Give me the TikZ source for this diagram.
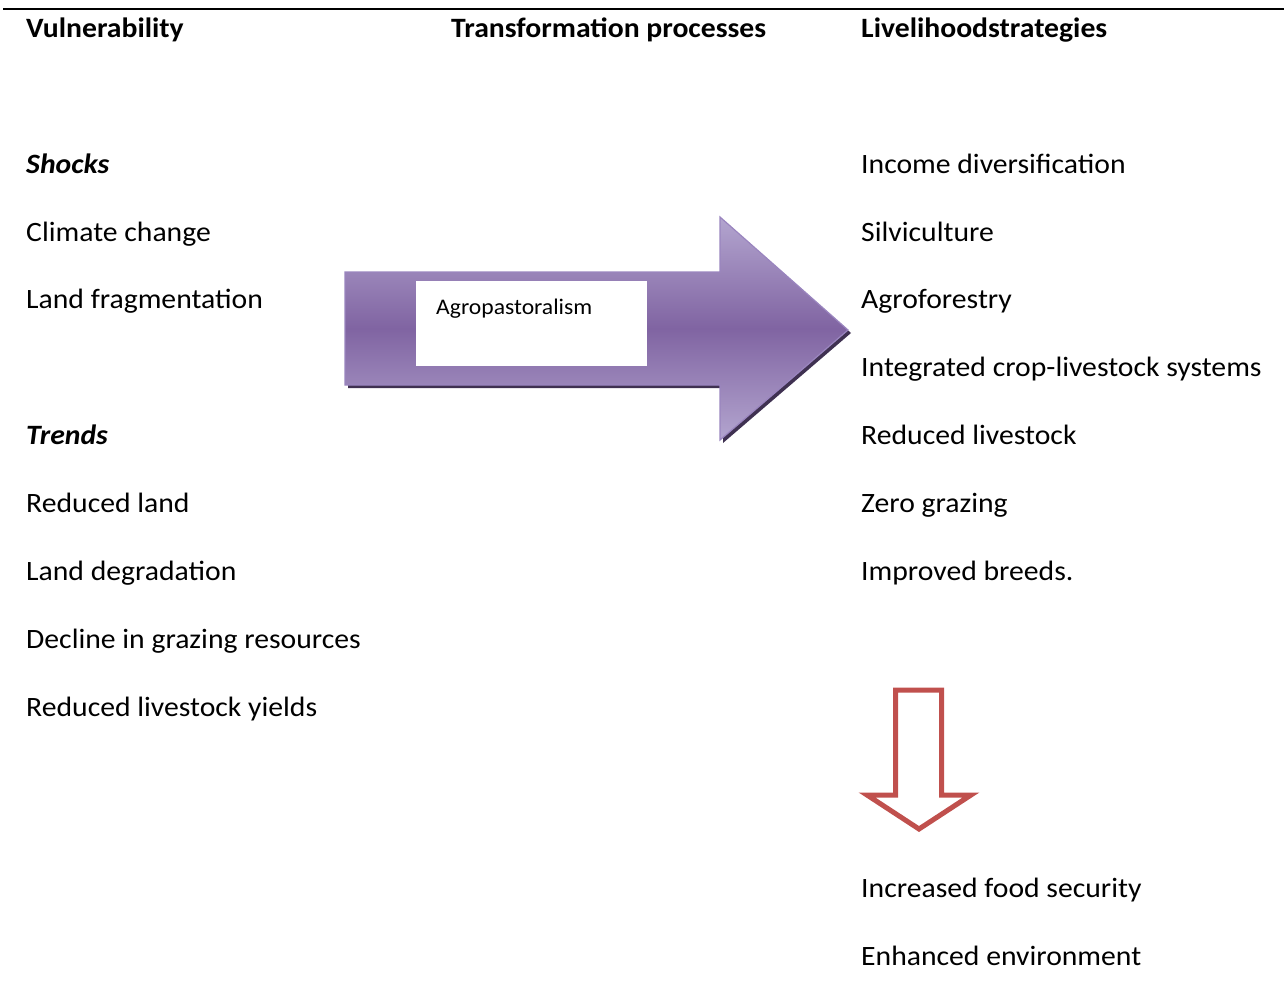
\documentclass[tikz,border=0pt]{standalone}
\usepackage{fontspec}
\setmainfont[FakeStretch=1.06]{Carlito}
\definecolor{purpmid}{HTML}{8064A2}
\definecolor{purplight}{HTML}{B3A5CF}
\definecolor{purpedge}{HTML}{9A85BF}
\definecolor{purpshadow}{HTML}{3F3151}
\definecolor{redarrow}{HTML}{C0504D}
\tikzset{
  txt/.style={anchor=base west, inner sep=0pt, font=\fontsize{28}{33}\selectfont},
  head/.style={txt, font=\fontsize{28}{33}\selectfont\bfseries},
  sub/.style={txt, font=\fontsize{28}{33}\selectfont\bfseries\itshape},
}
\begin{document}
\begin{tikzpicture}[x=1pt,y=-1pt]
\useasboundingbox (0,0) rectangle (1284,999);
% top rule
\coordinate (rl) at (3,9);
\coordinate (rr) at (1284,9);
\draw[line width=2.2pt] (rl) -- (rr);
% headers
\node[head] (h1) at (26,37) {Vulnerability};
\node[head] (h2) at (451,37) {Transformation processes};
\node[head] (h3) at (861,37) {Livelihoodstrategies};
% left column
\node[sub] (l1) at (26,173) {Shocks};
\node[txt] (l2) at (26,241) {Climate change};
\node[txt] (l3) at (26,308) {Land fragmentation};
\node[sub] (l4) at (26,444) {Trends};
\node[txt] (l5) at (26,512) {Reduced land};
\node[txt] (l6) at (26,580) {Land degradation};
\node[txt] (l7) at (26,648) {Decline in grazing resources};
\node[txt] (l8) at (26,716) {Reduced livestock yields};
% right column
\node[txt] (r1) at (861,173) {Income diversification};
\node[txt] (r2) at (861,241) {Silviculture};
\node[txt] (r3) at (861,308) {Agroforestry};
\node[txt] (r4) at (861,376) {Integrated crop-livestock systems};
\node[txt] (r5) at (861,444) {Reduced livestock};
\node[txt] (r6) at (861,512) {Zero grazing};
\node[txt] (r7) at (861,580) {Improved breeds.};
\node[txt] (r8) at (861,897) {Increased food security};
\node[txt] (r9) at (861,965) {Enhanced environment};
% purple arrow shadow
\fill[purpshadow] (348,275) -- (723,275) -- (723,220) -- (851,333) -- (723,443) -- (723,388) -- (348,388) -- cycle;
% purple arrow
\shade[top color=purplight, bottom color=purplight, middle color=purpmid, draw=purpedge, line width=1.2pt]
  (345,272) -- (720,272) -- (720,217) -- (848,330) -- (720,440) -- (720,385) -- (345,385) -- cycle;
% white box
\fill[white] (416,281) rectangle (647,366);
\node[anchor=base west, inner sep=0pt, font=\fontsize{22.3}{26}\selectfont] (ag) at (436,314) {Agropastoralism};
% red outline arrow
\draw[redarrow, line width=5pt, line join=miter]
  (895.5,690) -- (941.5,690) -- (941.5,795) -- (971,795) -- (919,829) -- (867,795) -- (895.5,795) -- cycle;
\end{tikzpicture}
\end{document}
